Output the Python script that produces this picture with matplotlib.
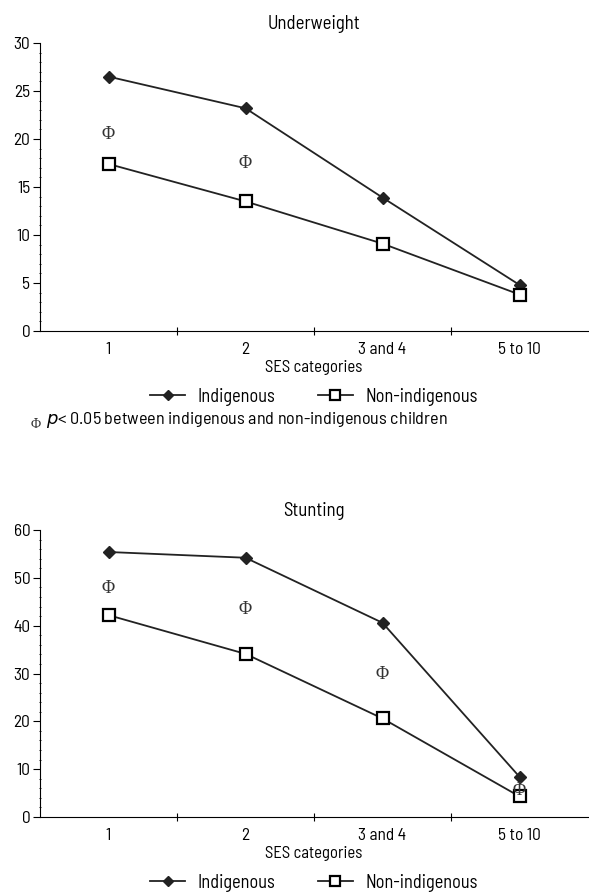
import numpy as np
import matplotlib
matplotlib.use("Agg")
import matplotlib.pyplot as plt
from matplotlib.ticker import MultipleLocator

plt.rcParams['font.family'] = ['Barlow Semi Condensed', 'Archivo Narrow', 'DejaVu Sans']

# data
categories = ["1", "2", "3 and 4", "5 to 10"]
uw_indig = [26.5, 23.2, 13.9, 4.8]
uw_non = [17.4, 13.5, 9.1, 3.8]
uw_sig_x = [0, 1]
uw_sig_y = [20.5, 17.5]

st_indig = [55.4, 54.2, 40.6, 8.4]
st_non = [42.2, 34.1, 20.6, 4.3]
st_sig_x = [0, 1, 2, 3]
st_sig_y = [47.8, 43.3, 29.7, 5.6]

fig = plt.figure(figsize=(5.89, 8.94), dpi=100)
W, H = 589.0, 894.0
serif = ['Liberation Serif', 'DejaVu Serif']


def panel(rect, title, indig, non, sx, sy, ymax, major, minor):
    ax = fig.add_axes(rect)
    x = np.arange(len(categories))
    ax.plot(x, indig, color='#222222', lw=1.3, marker='D', ms=6,
            mfc='#222222', mec='#222222', label='Indigenous')
    ax.plot(x, non, color='#222222', lw=1.3, marker='s', ms=9,
            mfc='white', mec='black', mew=1.6, label='Non-indigenous')
    for xi, yi in zip(sx, sy):
        ax.text(xi, yi, '\u03a6', ha='center', va='center', fontsize=13,
                family=serif, color='#333333')
    ax.set_xlim(-0.5, len(categories) - 0.5)
    ax.set_ylim(0, ymax)
    ax.spines['top'].set_visible(False)
    ax.spines['right'].set_visible(False)
    ax.yaxis.set_major_locator(MultipleLocator(major))
    ax.yaxis.set_minor_locator(MultipleLocator(minor))
    ax.tick_params(axis='y', which='major', length=5, labelsize=12.5, pad=2)
    ax.tick_params(axis='y', which='minor', length=2, direction='inout')
    ax.set_xticks(np.arange(len(categories) - 1) + 0.5)
    ax.set_xticklabels([])
    ax.set_xticks(x, minor=True)
    ax.set_xticklabels(categories, minor=True, fontsize=12.5)
    ax.tick_params(axis='x', which='major', length=6, direction='inout')
    ax.tick_params(axis='x', which='minor', length=0, pad=8)
    ax.set_xlabel('SES categories', fontsize=12, labelpad=2)
    ax.set_title(title, fontsize=13.5, pad=10)
    ax.legend(loc='upper center', bbox_to_anchor=(0.5, -0.14), ncol=2,
              frameon=False, fontsize=13.2, handlelength=1.9, markerscale=0.85,
              columnspacing=2.3, handletextpad=0.7)
    return ax


ax1 = panel([40 / W, 1 - 331 / H, 548 / W, 288 / H], 'Underweight',
            uw_indig, uw_non, uw_sig_x, uw_sig_y, 30, 5, 1)
ax2 = panel([40 / W, 1 - 817 / H, 548 / W, 287 / H], 'Stunting',
            st_indig, st_non, st_sig_x, st_sig_y, 60, 10, 2)

# footnote
fig.text(36 / W, 1 - 424 / H, '\u03a6', fontsize=10, ha='center', va='center',
         family=serif, color='#333333')
fig.text(46 / W, 1 - 420 / H, r'$\it{p}$< 0.05 between indigenous and non-indigenous children',
         fontsize=13, ha='left', va='center')

fig.savefig('out.png', dpi=100)
